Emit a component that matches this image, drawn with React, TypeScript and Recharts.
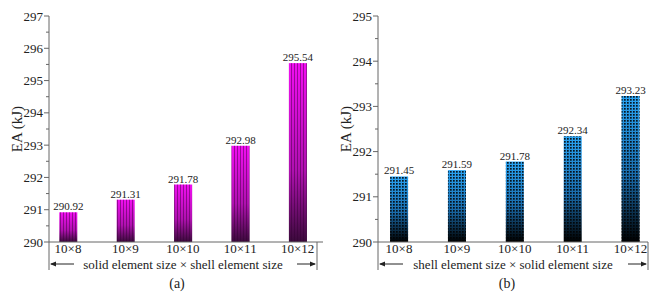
import React from 'react';
import { BarChart, Bar, XAxis, YAxis, LabelList } from 'recharts';

const categories = ['10×8', '10×9', '10×10', '10×11', '10×12'];
const eaSolidShell = [290.92, 291.31, 291.78, 292.98, 295.54];
const eaShellSolid = [291.45, 291.59, 291.78, 292.34, 293.23];
const ticksA = [290, 290.5, 291, 291.5, 292, 292.5, 293, 293.5, 294, 294.5, 295, 295.5, 296, 296.5, 297];
const ticksB = [290, 290.5, 291, 291.5, 292, 292.5, 293, 293.5, 294, 294.5, 295];

const FONT = 'Liberation Serif';
const AXIS = '#666';
const TEXT = '#222';

const data = categories.map((cat, i) => ({ i, cat, a: eaSolidShell[i], b: eaShellSolid[i] }));

// y tick: major ticks get a label, half ticks only a short mark
const YTick = (props: any) => {
  const { x, y, payload } = props;
  const major = Number.isInteger(payload.value);
  return (
    <g>
      <line x1={x} x2={x - (major ? 5 : 3)} y1={y} y2={y} stroke={AXIS} strokeWidth={1} />
      {major && (
        <text x={x - 6} y={y} dy="0.35em" textAnchor="end" style={{ fontFamily: FONT }} fontSize={13} fill={TEXT}>
          {payload.value}
        </text>
      )}
    </g>
  );
};

const XTick = (props: any) => {
  const { x, y, payload } = props;
  return (
    <text x={x} y={y + 1} dy="0.75em" textAnchor="middle" style={{ fontFamily: FONT }} fontSize={13} fill={TEXT}>
      {categories[payload.value]}
    </text>
  );
};

const StripeBar = (p: any) => (
  <g>
    <rect x={p.x} y={p.y} width={p.width} height={p.height} fill="url(#gradA)" />
    <rect x={p.x} y={p.y} width={p.width} height={p.height} fill="url(#stripes)" />
  </g>
);

const DotBar = (p: any) => (
  <g>
    <rect x={p.x} y={p.y} width={p.width} height={p.height} fill="url(#gradB)" />
    <rect x={p.x} y={p.y} width={p.width} height={p.height} fill="url(#dots)" />
  </g>
);

const yTitle = (dx: number) => (props: any) => {
  const { x, y, height } = props.viewBox;
  const cx = x + dx;
  const cy = y + height / 2;
  return (
    <text x={cx} y={cy} dy="0.35em" textAnchor="middle" transform={`rotate(-90 ${cx} ${cy})`} style={{ fontFamily: FONT }} fontSize={15} fill={TEXT}>
      EA (kJ)
    </text>
  );
};

// bracket with arrows under the x axis, plus the panel letter
const bracket = (title: string, letter: string, right: number) => (props: any) => {
  const { x, y } = props.viewBox;
  const x2 = x + right;
  const mid = (x + x2) / 2;
  const ay = y + 22;
  return (
    <g>
      <line x1={x} x2={x} y1={y} y2={y + 28} stroke={AXIS} />
      <line x1={x2} x2={x2} y1={y} y2={y + 28} stroke={AXIS} />
      <line x1={x + 2} x2={x + 25} y1={ay} y2={ay} stroke="#222" />
      <path d={`M${x + 1},${ay} l6,-2.5 l0,5 z`} fill="#222" />
      <line x1={x2 - 20} x2={x2 - 2} y1={ay} y2={ay} stroke="#222" />
      <path d={`M${x2 - 1},${ay} l-6,-2.5 l0,5 z`} fill="#222" />
      <text x={mid} y={ay} dy="0.35em" textAnchor="middle" style={{ fontFamily: FONT }} fontSize={13} fill={TEXT}>
        {title}
      </text>
      <text x={mid - 6} y={y + 41} dy="0.35em" textAnchor="middle" style={{ fontFamily: FONT }} fontSize={14} fill={TEXT}>
        {letter}
      </text>
    </g>
  );
};

const labelStyle = { fontFamily: FONT, fontSize: 11, fill: TEXT };

export default function App() {
  return (
    <div style={{ position: 'absolute', left: 0, top: 0, width: 666, height: 298, background: '#fff', fontFamily: FONT }}>
      <svg width={0} height={0} style={{ position: 'absolute' }}>
        <defs>
          <linearGradient id="gradA" x1="0" y1="0" x2="0" y2="1">
            <stop offset="0%" stopColor="#f20ef2" />
            <stop offset="60%" stopColor="#b010b0" />
            <stop offset="100%" stopColor="#3a0a3a" />
          </linearGradient>
          <pattern id="stripes" patternUnits="userSpaceOnUse" width={3} height={10}>
            <rect x={0} y={0} width={1} height={10} fill="rgba(50,0,50,0.45)" />
          </pattern>
          <linearGradient id="gradB" x1="0" y1="0" x2="0" y2="1">
            <stop offset="0%" stopColor="#2aa4f4" />
            <stop offset="55%" stopColor="#1a6cac" />
            <stop offset="100%" stopColor="#000" />
          </linearGradient>
          <pattern id="dots" patternUnits="userSpaceOnUse" width={3} height={3}>
            <rect x={0} y={0} width={1.7} height={1.7} fill="rgba(0,0,0,0.85)" />
          </pattern>
        </defs>
      </svg>

      <div style={{ position: 'absolute', left: 0, top: 0 }}>
        <BarChart width={333} height={298} data={data} margin={{ top: 16, right: 10, left: 0, bottom: 0 }}>
          <XAxis
            type="number"
            dataKey="i"
            domain={[-0.331, 4.442]}
            ticks={[0, 1, 2, 3, 4]}
            height={56}
            stroke={AXIS}
            tickLine={false}
            tickSize={0}
            tickMargin={0}
            tick={<XTick />}
            interval={0}
            label={{ content: bracket('solid element size × shell element size', '(a)', 268) }}
          />
          <YAxis
            type="number"
            domain={[290, 297]}
            ticks={ticksA}
            width={49}
            stroke={AXIS}
            tickLine={false}
            tickSize={0}
            tickMargin={0}
            tick={<YTick />}
            interval={0}
            label={{ content: yTitle(17) }}
          />
          <Bar dataKey="a" barSize={18} shape={<StripeBar />} isAnimationActive={false}>
            <LabelList dataKey="a" position="top" offset={2} style={labelStyle} formatter={(v: number) => v.toFixed(2)} />
          </Bar>
        </BarChart>
      </div>

      <div style={{ position: 'absolute', left: 333, top: 0 }}>
        <BarChart width={333} height={298} data={data} margin={{ top: 16, right: 18, left: 0, bottom: 0 }}>
          <XAxis
            type="number"
            dataKey="i"
            domain={[-0.363, 4.302]}
            ticks={[0, 1, 2, 3, 4]}
            height={56}
            stroke={AXIS}
            tickLine={false}
            tickSize={0}
            tickMargin={0}
            tick={<XTick />}
            interval={0}
            label={{ content: bracket('shell element size × solid element size', '(b)', 270) }}
          />
          <YAxis
            type="number"
            domain={[290, 295]}
            ticks={ticksB}
            width={45}
            stroke={AXIS}
            tickLine={false}
            tickSize={0}
            tickMargin={0}
            tick={<YTick />}
            interval={0}
            label={{ content: yTitle(13) }}
          />
          <Bar dataKey="b" barSize={18} shape={<DotBar />} isAnimationActive={false}>
            <LabelList dataKey="b" position="top" offset={2} style={labelStyle} formatter={(v: number) => v.toFixed(2)} />
          </Bar>
        </BarChart>
      </div>
    </div>
  );
}
